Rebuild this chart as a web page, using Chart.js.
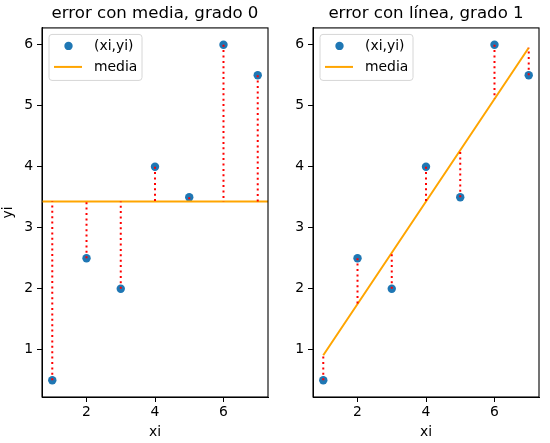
<!DOCTYPE html>
<html>
<head>
<meta charset="utf-8">
<script src="https://cdn.jsdelivr.net/npm/chart.js@4/dist/chart.umd.min.js"></script>
<style>
  body { margin: 0; background: #fff; }
  .panel { position: absolute; top: 0; width: 275px; height: 443px; }
</style>
</head>
<body>
<div class="panel" style="left:0"><canvas id="grafico1"></canvas></div>
<div class="panel" style="left:275px"><canvas id="grafico2"></canvas></div>
<script>
// Datos
const xi = [1, 2, 3, 4, 5, 6, 7];
const yi = [0.5, 2.5, 2, 4, 3.5, 6, 5.5];
const media = 3.43;                                        // grado 0
const ajuste = [0.91, 1.75, 2.59, 3.43, 4.27, 5.11, 5.95]; // grado 1
const limitesX = [0.7, 7.3];
const limitesY = [0.225, 6.275];
const ticksX = [2, 4, 6];
const ticksY = [1, 2, 3, 4, 5, 6];

const fuente = 'DejaVu Sans';
const azul = '#1f77b4';
const naranja = '#ffa500';

// segmentos verticales (xi, yi) -> (xi, base), separados por null
function segmentos(base) {
  const pts = [];
  xi.forEach((x, i) => {
    pts.push({ x: x, y: yi[i] }, { x: x, y: base[i] }, { x: x, y: null });
  });
  return pts;
}

// marco completo y leyenda tipo matplotlib
const marcoYLeyenda = {
  id: 'marcoYLeyenda',
  afterDatasetsDraw(chart) {
    const { ctx, chartArea: a } = chart;
    ctx.save();
    ctx.strokeStyle = '#000';
    ctx.lineWidth = 1.1;
    ctx.strokeRect(a.left, a.top, a.right - a.left, a.bottom - a.top);

    // leyenda
    const bx = a.left + 7, by = a.top + 6.5, bw = 93, bh = 46;
    ctx.beginPath();
    ctx.roundRect(bx, by, bw, bh, 3);
    ctx.fillStyle = 'rgba(255,255,255,0.8)';
    ctx.fill();
    ctx.strokeStyle = '#d6d6d6';
    ctx.lineWidth = 1;
    ctx.stroke();

    ctx.fillStyle = azul;
    ctx.beginPath();
    ctx.arc(bx + 19.5, by + 11.5, 4.2, 0, Math.PI * 2);
    ctx.fill();

    ctx.strokeStyle = naranja;
    ctx.lineWidth = 2;
    ctx.beginPath();
    ctx.moveTo(bx + 5, by + 32.5);
    ctx.lineTo(bx + 33, by + 32.5);
    ctx.stroke();

    ctx.fillStyle = '#000';
    ctx.font = '13.9px "' + fuente + '"';
    ctx.textBaseline = 'middle';
    ctx.fillText('(xi,yi)', bx + 45, by + 11.5);
    ctx.fillText('media', bx + 45, by + 32.5);
    ctx.restore();
  }
};

function escalas(yAncho, conTituloY) {
  const ticksComunes = {
    color: '#000',
    font: { family: fuente, size: 13.9 },
    autoSkip: false,
    maxRotation: 0
  };
  const rejilla = {
    display: true, drawOnChartArea: false, drawTicks: true,
    tickLength: 5, color: '#000', tickWidth: 1
  };
  return {
    x: {
      type: 'linear', min: limitesX[0], max: limitesX[1],
      afterBuildTicks: s => { s.ticks = ticksX.map(v => ({ value: v })); },
      afterFit: s => { s.height = 46; },
      ticks: { ...ticksComunes, padding: 2 },
      grid: rejilla,
      border: { display: true, color: '#000', width: 1 },
      title: { display: true, text: 'xi', color: '#000',
               font: { family: fuente, size: 13.9 }, padding: { top: 0, bottom: 2 } }
    },
    y: {
      type: 'linear', min: limitesY[0], max: limitesY[1],
      afterBuildTicks: s => { s.ticks = ticksY.map(v => ({ value: v })); },
      afterFit: s => { s.width = yAncho; },
      ticks: { ...ticksComunes, padding: 4 },
      grid: rejilla,
      border: { display: true, color: '#000', width: 1 },
      title: { display: conTituloY, text: 'yi', color: '#000',
               font: { family: fuente, size: 13.9 }, padding: { top: 0, bottom: 0 } }
    }
  };
}

function opciones(titulo, yAncho, derecha, conTituloY) {
  return {
    responsive: true,
    maintainAspectRatio: false,
    animation: false,
    layout: { padding: { left: 0, right: derecha, top: 0, bottom: 0 } },
    plugins: {
      legend: { display: false },
      tooltip: { enabled: false },
      title: {
        display: true, text: titulo, color: '#000', fullSize: false,
        font: { family: fuente, size: 16.6, weight: 'normal' },
        padding: { top: 4, bottom: 4 }
      }
    },
    scales: escalas(yAncho, conTituloY)
  };
}

const puntos = xi.map((x, i) => ({ x: x, y: yi[i] }));

// Gráfico 1: error con la media
new Chart(document.getElementById('grafico1'), {
  type: 'scatter',
  data: {
    datasets: [
      { type: 'line', data: segmentos(xi.map(() => media)), borderColor: 'red',
        borderWidth: 2, borderDash: [2, 3.4], pointRadius: 0, spanGaps: false, order: 0 },
      { type: 'line', data: [{ x: limitesX[0], y: media }, { x: limitesX[1], y: media }],
        borderColor: naranja, borderWidth: 2, pointRadius: 0, order: 1 },
      { data: puntos, backgroundColor: azul, borderWidth: 0, pointRadius: 4.2, order: 2 }
    ]
  },
  options: opciones('error con media, grado 0', 42, 7, true),
  plugins: [marcoYLeyenda]
});

// Gráfico 2: error con la recta
new Chart(document.getElementById('grafico2'), {
  type: 'scatter',
  data: {
    datasets: [
      { type: 'line', data: segmentos(ajuste), borderColor: 'red',
        borderWidth: 2, borderDash: [2, 3.4], pointRadius: 0, spanGaps: false, order: 0 },
      { type: 'line', data: xi.map((x, i) => ({ x: x, y: ajuste[i] })),
        borderColor: naranja, borderWidth: 2, pointRadius: 0, order: 1 },
      { data: puntos, backgroundColor: azul, borderWidth: 0, pointRadius: 4.2, order: 2 }
    ]
  },
  options: opciones('error con línea, grado 1', 38, 11, false),
  plugins: [marcoYLeyenda]
});
</script>
</body>
</html>
